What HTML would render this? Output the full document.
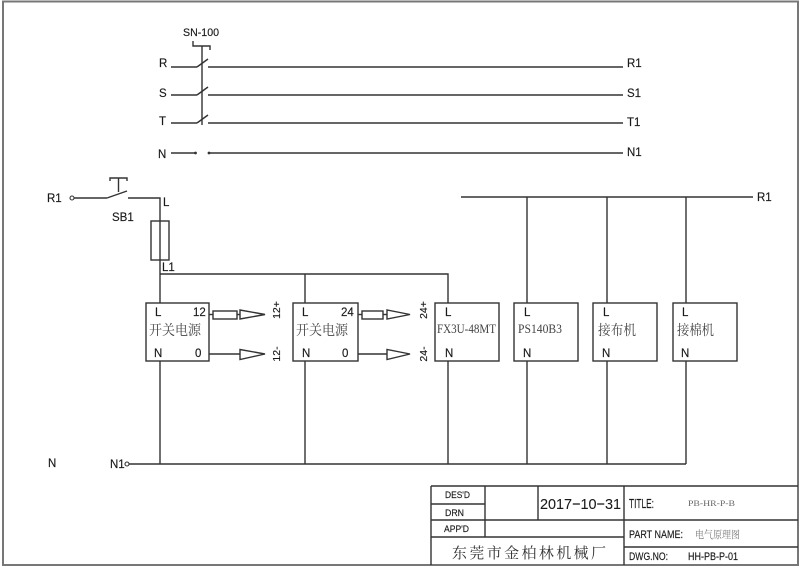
<!DOCTYPE html>
<html><head><meta charset="utf-8"><style>
html,body{margin:0;padding:0;background:#fff;}
svg{display:block;}
text{font-family:"Liberation Sans",Arial,sans-serif;fill:#1a1a1a;stroke:#1a1a1a;stroke-width:0.15;}
.cj{font-family:"Liberation Serif","Noto Serif CJK SC",serif;fill:#444;stroke:none;}
.sf{font-family:"Liberation Serif","Noto Serif CJK SC",serif;fill:#444;stroke:none;}
</style></head><body>
<svg width="800" height="568" viewBox="0 0 800 568" xmlns="http://www.w3.org/2000/svg">
<rect x="0" y="0" width="800" height="568" fill="#fff"/>
<!-- page border -->
<rect x="3" y="1.5" width="795" height="563.5" fill="none" stroke="#777" stroke-width="2"/>

<g stroke="#333" stroke-width="1.4" fill="none">
<!-- SN-100 switch -->
<polyline points="193,41 193,46 210,46 210,50"/>
<line x1="202" y1="46" x2="202" y2="125"/>
<!-- R -->
<line x1="171" y1="67" x2="197" y2="67"/>
<line x1="197" y1="67" x2="208" y2="59"/>
<line x1="208" y1="67" x2="623" y2="67"/>
<!-- S -->
<line x1="171" y1="95" x2="197" y2="95"/>
<line x1="197" y1="95" x2="208" y2="87"/>
<line x1="208" y1="95" x2="623" y2="95"/>
<!-- T -->
<line x1="171" y1="123" x2="197" y2="123"/>
<line x1="197" y1="123" x2="208" y2="115"/>
<line x1="208" y1="123" x2="623" y2="123"/>
<!-- N -->
<line x1="171" y1="153" x2="195" y2="153"/>
<line x1="209" y1="153" x2="623" y2="153"/>
</g>
<circle cx="195.5" cy="153" r="1.4" fill="#333"/>
<circle cx="209" cy="153" r="1.4" fill="#333"/>

<text x="183" y="36" font-size="11" textLength="36" lengthAdjust="spacingAndGlyphs">SN-100</text>
<text x="159" y="67" font-size="11.5">R</text>
<text x="159" y="97" font-size="11.5">S</text>
<text x="159" y="125" font-size="11.5">T</text>
<text x="158" y="158" font-size="11.5">N</text>
<text x="627" y="67" font-size="11.5">R1</text>
<text x="627" y="97" font-size="11.5">S1</text>
<text x="627" y="126" font-size="11.5">T1</text>
<text x="627" y="156" font-size="11.5">N1</text>

<!-- SB1 circuit -->
<text x="47" y="202" font-size="11.5">R1</text>
<circle cx="72" cy="198" r="2" fill="#fff" stroke="#333" stroke-width="1.1"/>
<g stroke="#333" stroke-width="1.4" fill="none">
<line x1="74" y1="198" x2="107" y2="198"/>
<line x1="107" y1="198" x2="127" y2="191"/>
<polyline points="110,181 110,178 127,178 127,181"/>
<line x1="118.5" y1="178" x2="118.5" y2="192"/>
<polyline points="128,198 160,198 160,303"/>
<rect x="151" y="221" width="18" height="39" fill="#fff"/>
<line x1="160" y1="221" x2="160" y2="260"/>
<polyline points="160,274 448,274 448,303"/>
<line x1="305" y1="274" x2="305" y2="303"/>

<!-- Right R1 bus -->
<line x1="461" y1="197" x2="753" y2="197"/>
<line x1="527" y1="197" x2="527" y2="303"/>
<line x1="607" y1="197" x2="607" y2="303"/>
<line x1="686" y1="197" x2="686" y2="303"/>

<!-- boxes -->
<rect x="146" y="303" width="63" height="58"/>
<rect x="293" y="303" width="65" height="58"/>
<rect x="435" y="303" width="64" height="58"/>
<rect x="514" y="303" width="64" height="58"/>
<rect x="593" y="303" width="64" height="58"/>
<rect x="673" y="303" width="64" height="58"/>

<!-- outputs box1 -->
<line x1="209" y1="314.5" x2="213" y2="314.5"/>
<rect x="213" y="311" width="24" height="8"/>
<line x1="237" y1="314.5" x2="240" y2="314.5"/>
<polygon points="240,310 240,319 265,314.5"/>
<line x1="209" y1="354" x2="240" y2="354"/>
<polygon points="240,349.5 240,359.5 265,354"/>
<!-- outputs box2 -->
<line x1="358" y1="314.5" x2="362" y2="314.5"/>
<rect x="362" y="311" width="21" height="8"/>
<line x1="383" y1="314.5" x2="387" y2="314.5"/>
<polygon points="387,310 387,319 410,314.5"/>
<line x1="358" y1="354" x2="387" y2="354"/>
<polygon points="387,349.5 387,359.5 410,354"/>

<!-- bottom N verticals -->
<line x1="160" y1="361" x2="160" y2="464"/>
<line x1="305" y1="361" x2="305" y2="464"/>
<line x1="448" y1="361" x2="448" y2="464"/>
<line x1="527" y1="361" x2="527" y2="464"/>
<line x1="607" y1="361" x2="607" y2="464"/>
<line x1="686" y1="361" x2="686" y2="464"/>
<line x1="129" y1="464" x2="686" y2="464"/>
</g>
<circle cx="127" cy="464" r="2" fill="#fff" stroke="#333" stroke-width="1.1"/>

<text x="112" y="221" font-size="11.5">SB1</text>
<text x="163" y="206" font-size="11.5">L</text>
<text x="162" y="271" font-size="11.5">L1</text>
<text x="757" y="201" font-size="11.5">R1</text>
<text x="48" y="467" font-size="11.5">N</text>
<text x="110" y="468" font-size="11.5">N1</text>

<!-- box texts -->
<text x="155" y="316" font-size="11.5">L</text>
<text x="193" y="316" font-size="11.5">12</text>
<text class="cj" x="149" y="335" font-size="14" textLength="52" lengthAdjust="spacingAndGlyphs">开关电源</text>
<text x="154" y="357" font-size="11.5">N</text>
<text x="195" y="357" font-size="11.5">0</text>

<text x="302" y="316" font-size="11.5">L</text>
<text x="341" y="316" font-size="11.5">24</text>
<text class="cj" x="296" y="335" font-size="14" textLength="52" lengthAdjust="spacingAndGlyphs">开关电源</text>
<text x="302" y="357" font-size="11.5">N</text>
<text x="342" y="357" font-size="11.5">0</text>

<text x="445" y="316" font-size="11.5">L</text>
<text class="sf" x="437" y="333" font-size="12.5" textLength="59" lengthAdjust="spacingAndGlyphs">FX3U-48MT</text>
<text x="445" y="357" font-size="11.5">N</text>

<text x="524" y="316" font-size="11.5">L</text>
<text class="sf" x="518" y="333" font-size="12.5" textLength="44" lengthAdjust="spacingAndGlyphs">PS140B3</text>
<text x="523" y="357" font-size="11.5">N</text>

<text x="603" y="316" font-size="11.5">L</text>
<text class="cj" x="598" y="335" font-size="14" textLength="38" lengthAdjust="spacingAndGlyphs">接布机</text>
<text x="602" y="357" font-size="11.5">N</text>

<text x="682" y="316" font-size="11.5">L</text>
<text class="cj" x="677" y="335" font-size="14" textLength="37" lengthAdjust="spacingAndGlyphs">接棉机</text>
<text x="681" y="357" font-size="11.5">N</text>

<!-- rotated labels -->
<text transform="translate(280,310) rotate(-90)" font-size="10.5" text-anchor="middle">12+</text>
<text transform="translate(280,354) rotate(-90)" font-size="10.5" text-anchor="middle">12-</text>
<text transform="translate(427,310) rotate(-90)" font-size="10.5" text-anchor="middle">24+</text>
<text transform="translate(427,354) rotate(-90)" font-size="10.5" text-anchor="middle">24-</text>

<!-- title block -->
<g stroke="#333" stroke-width="1.4" fill="none">
<line x1="431" y1="486" x2="798" y2="486"/>
<line x1="431" y1="486" x2="431" y2="565"/>
<line x1="431" y1="504" x2="485" y2="504"/>
<line x1="431" y1="520" x2="798" y2="520"/>
<line x1="431" y1="537" x2="624" y2="537"/>
<line x1="624" y1="547" x2="798" y2="547"/>
<line x1="485" y1="486" x2="485" y2="537"/>
<line x1="538" y1="486" x2="538" y2="520"/>
<line x1="624" y1="486" x2="624" y2="565"/>
</g>
<text x="445" y="498" font-size="9.5" textLength="25" lengthAdjust="spacingAndGlyphs">DES'D</text>
<text x="445" y="516" font-size="9.5" textLength="19" lengthAdjust="spacingAndGlyphs">DRN</text>
<text x="444" y="532" font-size="9.5" textLength="25" lengthAdjust="spacingAndGlyphs">APP'D</text>
<text x="540" y="509" font-size="15" textLength="81" lengthAdjust="spacingAndGlyphs" style="stroke-width:0.1">2017−10−31</text>
<text x="629" y="508" font-size="13" textLength="25" lengthAdjust="spacingAndGlyphs">TITLE:</text>
<text class="sf" x="688" y="506" font-size="8" style="fill:#666" textLength="47" lengthAdjust="spacingAndGlyphs">PB-HR-P-B</text>
<text x="629" y="538" font-size="11" textLength="54" lengthAdjust="spacingAndGlyphs">PART NAME:</text>
<text class="cj" x="695" y="538" font-size="10.5" textLength="45" lengthAdjust="spacingAndGlyphs" style="fill:#777">电气原理图</text>
<text x="629" y="560" font-size="11" textLength="39" lengthAdjust="spacingAndGlyphs">DWG.NO:</text>
<text x="688" y="560" font-size="11" textLength="50" lengthAdjust="spacingAndGlyphs">HH-PB-P-01</text>
<text class="cj" x="452" y="558" font-size="15" textLength="154" lengthAdjust="spacing" style="fill:#333">东莞市金柏林机械厂</text>
</svg>
</body></html>
